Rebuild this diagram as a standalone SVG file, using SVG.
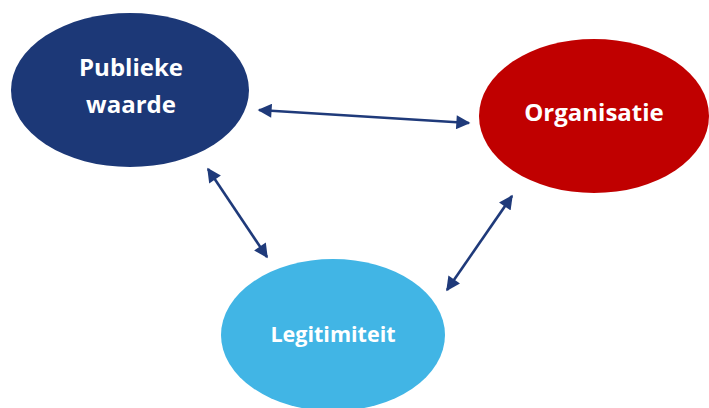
<svg xmlns="http://www.w3.org/2000/svg" width="709" height="408" viewBox="0 0 709 408">
<style>
.lbl{font-family:"Open Sans","Noto Sans","Liberation Sans",sans-serif;font-weight:bold;fill:#fff;text-anchor:middle}
.conn{stroke:#1F3A7A;stroke-width:2.6;fill:none;marker-start:url(#ah);marker-end:url(#ah)}
</style>
<defs>
<marker id="ah" viewBox="0 0 10 10" refX="9" refY="5" markerWidth="6.2" markerHeight="5.4" markerUnits="strokeWidth" orient="auto-start-reverse">
<path d="M0,0 L10,5 L0,10 Z" fill="#1F3A7A"/>
</marker>
</defs>
<rect width="709" height="408" fill="#fff"/>
<g id="publieke-waarde">
<ellipse cx="130" cy="90" rx="119" ry="77" fill="#1C3877"/>
<text class="lbl" x="131" y="76" font-size="24">Publieke</text>
<text class="lbl" x="131" y="113" font-size="24">waarde</text>
</g>
<g id="organisatie">
<ellipse cx="594" cy="116" rx="115" ry="77" fill="#C00000"/>
<text class="lbl" x="594" y="121" font-size="24">Organisatie</text>
</g>
<g id="legitimiteit">
<ellipse cx="333" cy="335" rx="112" ry="76" fill="#41B5E5"/>
<text class="lbl" x="333" y="342" font-size="21.5">Legitimiteit</text>
</g>
<g id="connectors">
<line class="conn" x1="259" y1="110" x2="469" y2="123"/>
<line class="conn" x1="208" y1="169" x2="267" y2="257"/>
<line class="conn" x1="512" y1="196" x2="447" y2="290"/>
</g>
</svg>
